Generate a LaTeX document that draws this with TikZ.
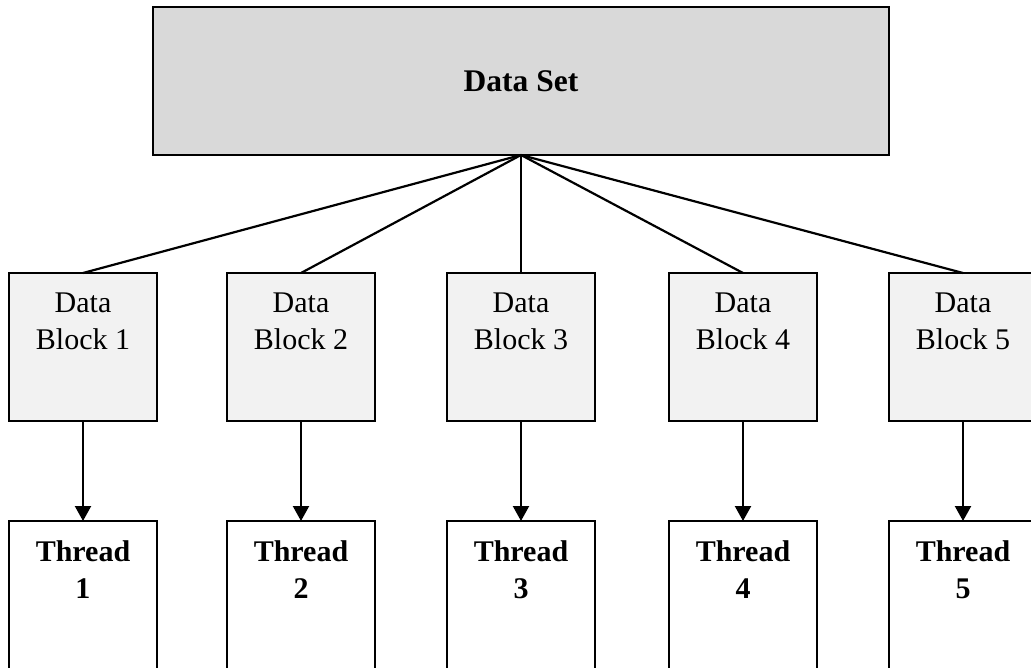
\documentclass[tikz,border=0pt]{standalone}
\usepackage{fontspec}
\setmainfont{Liberation Serif}
\usepackage{tikz}
\usetikzlibrary{arrows.meta}

\begin{document}
\begin{tikzpicture}[
  x=1pt,y=-1pt,
  font=\fontsize{30}{37}\selectfont,
  dataset/.style={draw,line width=2.7pt,fill={rgb,255:red,217;green,217;blue,217},
    minimum width=736pt,minimum height=148pt,inner sep=0pt,outer sep=0pt},
  datablock/.style={draw,line width=2.7pt,fill={rgb,255:red,242;green,242;blue,242},
    minimum width=148pt,minimum height=148pt,inner sep=0pt,outer sep=0pt},
  threadbox/.style={datablock,fill=white,minimum height=160pt},
  boxtext/.style={anchor=base,yshift=-77pt,align=center,inner sep=0pt},
  to/.style={-{Triangle[width=16pt,length=15pt]},line width=2.2pt},
  link/.style={line width=2.2pt}]
  \clip (0,0) rectangle (1031,668);
% Position the nodes at pixel coordinates
  \node[dataset] (DataSet) at (521,81) {\fontsize{31.5}{37}\selectfont\bfseries Data Set};

  \node[datablock,label={[boxtext]north:{Data\\Block 1}}] (Block1) at (83,347) {};
  \node[datablock,label={[boxtext]north:{Data\\Block 2}}] (Block2) at (301,347) {};
  \node[datablock,label={[boxtext]north:{Data\\Block 3}}] (Block3) at (521,347) {};
  \node[datablock,label={[boxtext]north:{Data\\Block 4}}] (Block4) at (743,347) {};
  \node[datablock,label={[boxtext]north:{Data\\Block 5}}] (Block5) at (963,347) {};

  \node[threadbox,label={[boxtext]north:{\bfseries Thread\\\bfseries 1}}] (Thread1) at (83,601) {};
  \node[threadbox,label={[boxtext]north:{\bfseries Thread\\\bfseries 2}}] (Thread2) at (301,601) {};
  \node[threadbox,label={[boxtext]north:{\bfseries Thread\\\bfseries 3}}] (Thread3) at (521,601) {};
  \node[threadbox,label={[boxtext]north:{\bfseries Thread\\\bfseries 4}}] (Thread4) at (743,601) {};
  \node[threadbox,label={[boxtext]north:{\bfseries Thread\\\bfseries 5}}] (Thread5) at (963,601) {};

  % Split the data set into blocks
  \draw[link]   (DataSet.south)     --  (Block1.north);
  \draw[link]   (DataSet.south)     --  (Block2.north);
  \draw[link]   (DataSet.south)     --  (Block3.north);
  \draw[link]   (DataSet.south)     --  (Block4.north);
  \draw[link]   (DataSet.south)     --  (Block5.north);

  % Hand each block to a thread
  \draw[to]     (Block1)            --  (Thread1);
  \draw[to]     (Block2)            --  (Thread2);
  \draw[to]     (Block3)            --  (Thread3);
  \draw[to]     (Block4)            --  (Thread4);
  \draw[to]     (Block5)            --  (Thread5);
\end{tikzpicture}
\end{document}
